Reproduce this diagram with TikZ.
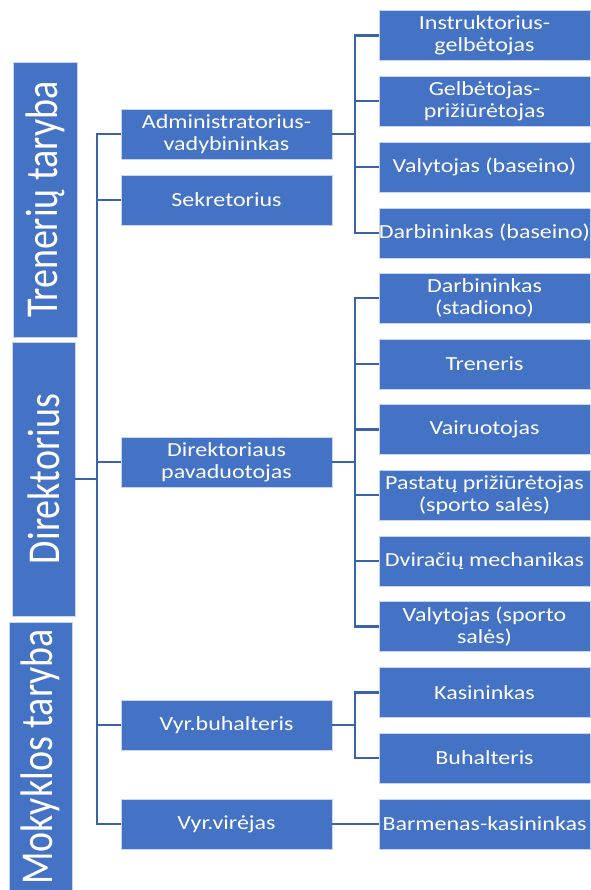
\documentclass[tikz,border=0pt]{standalone}
\usepackage{fontspec}
\setmainfont{Carlito}
\newfontfamily\boxfont{Carlito}[FakeStretch=1.2]
\newfontfamily\vfont{Carlito}
\definecolor{boxblue}{HTML}{4472C4}
\definecolor{lineblue}{HTML}{3B63AC}
\definecolor{edgeblue}{HTML}{C9D5EE}
\begin{document}
\begin{tikzpicture}[x=1pt,y=-1pt,
  box/.style={fill=boxblue, draw=edgeblue, line width=0.6pt,
    minimum width=211pt, minimum height=50pt, inner sep=0pt,
    text=white, align=center, font=\boxfont\fontsize{20}{22}\selectfont},
  vbox/.style={fill=boxblue, draw=edgeblue, line width=0.6pt, rotate=90,
    inner sep=0pt, text=white, font=\vfont\fontsize{38}{40}\selectfont},
  link/.style={draw=lineblue, line width=2.3pt}]
\useasboundingbox (0,0) rectangle (590,890);

% left vertical boxes
\node[vbox, minimum width=275pt, minimum height=64pt] (tt) at (45,199.5) {\scalebox{1}[1.2]{Trenerių taryba}};
\node[vbox, minimum width=274pt, minimum height=63pt] (dir) at (43.5,479) {\scalebox{1}[1.2]{Direktorius}};
\node[vbox, minimum width=270pt, minimum height=63pt] (mt) at (40.5,757) {\scalebox{1}[1.2]{Mokyklos taryba}};

% middle boxes
\node[box] (adm) at (226.5,134) {Administratorius-\\vadybininkas};
\node[box] (sek) at (226.5,200) {Sekretorius};
\node[box] (pav) at (226.5,462) {Direktoriaus\\pavaduotojas};
\node[box] (buh) at (226.5,725) {Vyr.buhalteris};
\node[box] (vir) at (226.5,824) {Vyr.virėjas};

% right boxes
\node[box] (r1) at (484.5,35.5) {Instruktorius-\\gelbėtojas};
\node[box] (r2) at (484.5,101) {Gelbėtojas-\\prižiūrėtojas};
\node[box] (r3) at (484.5,167) {Valytojas (baseino)};
\node[box] (r4) at (484.5,233) {Darbininkas (baseino)};
\node[box] (r5) at (484.5,298) {Darbininkas\\(stadiono)};
\node[box] (r6) at (484.5,364) {Treneris};
\node[box] (r7) at (484.5,429.5) {Vairuotojas};
\node[box] (r8) at (484.5,495) {Pastatų prižiūrėtojas\\(sporto salės)};
\node[box] (r9) at (484.5,561) {Dviračių mechanikas};
\node[box] (r10) at (484.5,626.5) {Valytojas (sporto\\salės)};
\node[box] (r11) at (484.5,692.5) {Kasininkas};
\node[box] (r12) at (484.5,758) {Buhalteris};
\node[box] (r13) at (484.5,824) {Barmenas-kasininkas};

% trunk
\coordinate (tk) at (97,0);
\coordinate (bk) at (355,0);
\draw[link] (adm.west) -- (adm.west -| tk) -- (vir.west -| tk) -- (vir.west);
\draw[link] (sek.west) -- (sek.west -| tk);
\draw[link] (pav.west) -- (pav.west -| tk);
\draw[link] (buh.west) -- (buh.west -| tk);
\draw[link] (dir.south) -- (dir.south -| tk);

% admin branch
\draw[link] (adm.east) -- (adm.east -| bk);
\draw[link] (r1.west) -- (r1.west -| bk) -- (r4.west -| bk) -- (r4.west);
\draw[link] (r2.west) -- (r2.west -| bk);
\draw[link] (r3.west) -- (r3.west -| bk);

% deputy branch
\draw[link] (pav.east) -- (pav.east -| bk);
\draw[link] (r5.west) -- (r5.west -| bk) -- (r10.west -| bk) -- (r10.west);
\draw[link] (r6.west) -- (r6.west -| bk);
\draw[link] (r7.west) -- (r7.west -| bk);
\draw[link] (r8.west) -- (r8.west -| bk);
\draw[link] (r9.west) -- (r9.west -| bk);

% accountant branch
\draw[link] (buh.east) -- (buh.east -| bk);
\draw[link] (r11.west) -- (r11.west -| bk) -- (r12.west -| bk) -- (r12.west);

% cook
\draw[link] (vir.east) -- (r13.west);
\end{tikzpicture}
\end{document}
